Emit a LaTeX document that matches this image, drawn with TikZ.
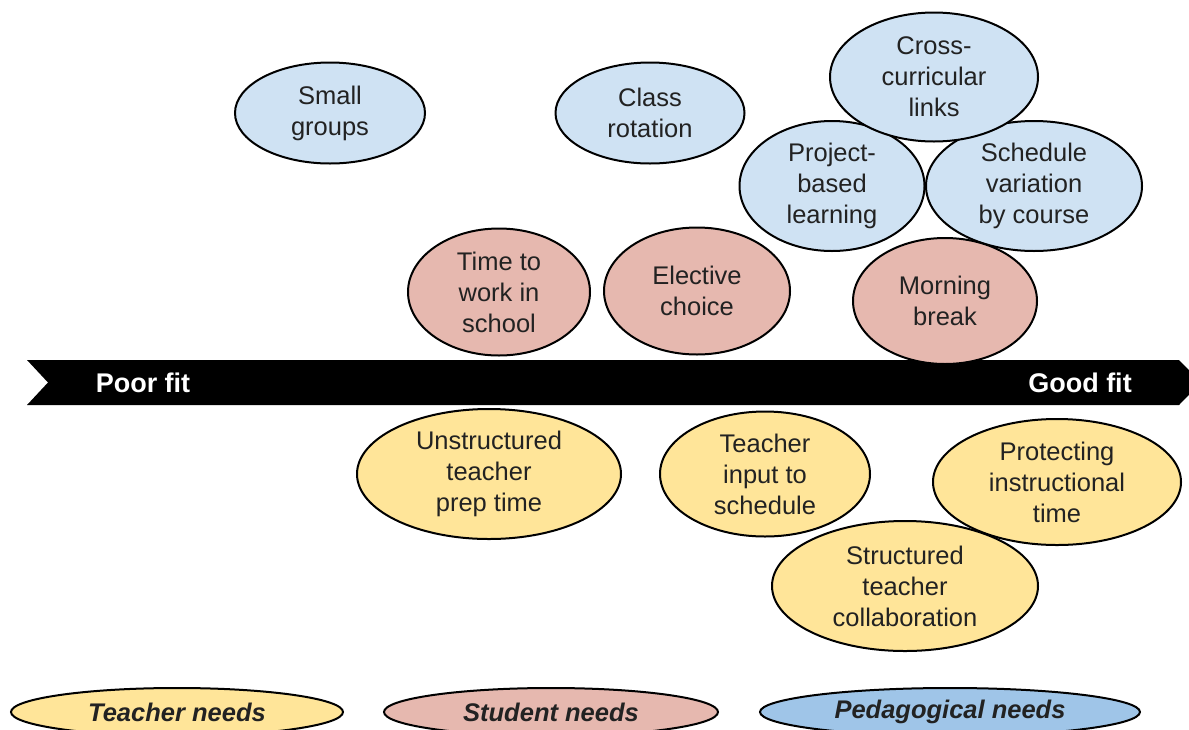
\documentclass[tikz,border=0pt]{standalone}
\usepackage{fontspec}
\setmainfont{Liberation Sans}
\usetikzlibrary{shapes.geometric}
\definecolor{bluefill}{HTML}{CFE2F3}
\definecolor{pinkfill}{HTML}{E6B8AF}
\definecolor{yellowfill}{HTML}{FFE599}
\definecolor{legblue}{HTML}{9FC5E8}
\definecolor{txt}{HTML}{222222}
\tikzset{
  bubble/.style={ellipse, draw=black, line width=2pt, inner sep=0pt, align=center,
    font=\fontsize{25.5}{31}\selectfont, text=txt},
  blue/.style={bubble, fill=bluefill},
  pink/.style={bubble, fill=pinkfill},
  yellow/.style={bubble, fill=yellowfill},
  legend/.style={ellipse, draw=black, line width=2pt, inner sep=0pt,
    font=\fontsize{25.5}{28}\selectfont\bfseries\itshape, text=txt},
  fitlabel/.style={text=white, font=\fontsize{27}{30}\selectfont\bfseries, inner sep=0pt}
}
\begin{document}
\begin{tikzpicture}[x=1pt,y=-1pt]
\clip (0,0) rectangle (1189,729);
\fill[white] (0,0) rectangle (1189,729);
% arrow
\fill[black] (27,360) -- (1179,360) -- (1201,382.5) -- (1179,405) -- (27,405) -- (48,382.5) -- cycle;
\node[fitlabel] (poor) at (143,382.5) {Poor fit};
\node[fitlabel] (good) at (1080,382.5) {Good fit};
% pedagogical
\node[blue, minimum width=190pt, minimum height=101pt] (small) at (330,113) {Small\\groups};
\node[blue, minimum width=189pt, minimum height=101pt] (rotation) at (650,113) {Class\\rotation};
\node[blue, minimum width=185pt, minimum height=130pt] (project) at (832,186) {Project-\\based\\learning};
\node[blue, minimum width=216pt, minimum height=130pt] (schedvar) at (1034,186) {Schedule\\variation\\by course};
\node[blue, minimum width=208pt, minimum height=129pt] (cross) at (934,77) {Cross-\\curricular\\links};
% student
\node[pink, minimum width=182pt, minimum height=127pt] (timework) at (499,292) {Time to\\work in\\school};
\node[pink, minimum width=186pt, minimum height=127pt] (elective) at (697,291) {Elective\\choice};
\node[pink, minimum width=184pt, minimum height=126pt] (morning) at (945,301) {Morning\\break};
% teacher
\node[yellow, minimum width=264pt, minimum height=130pt] (unstruct) at (489,474) {Unstructured\\teacher\\prep time};
\node[yellow, minimum width=210pt, minimum height=125pt] (input) at (765,474) {Teacher\\input to\\schedule};
\node[yellow, minimum width=248pt, minimum height=126pt] (protect) at (1057,482) {Protecting\\instructional\\time};
\node[yellow, minimum width=266pt, minimum height=130pt] (collab) at (905,586) {Structured\\teacher\\collaboration};
% legend
\node[legend, fill=yellowfill, minimum width=332pt, minimum height=48pt] (legteacher) at (177,712) {Teacher needs};
\node[legend, fill=pinkfill, minimum width=334pt, minimum height=48pt] (legstudent) at (551,712) {Student needs};
\node[legend, fill=legblue, minimum width=380pt, minimum height=48pt] (legped) at (950,712) {Pedagogical needs};
\end{tikzpicture}
\end{document}
